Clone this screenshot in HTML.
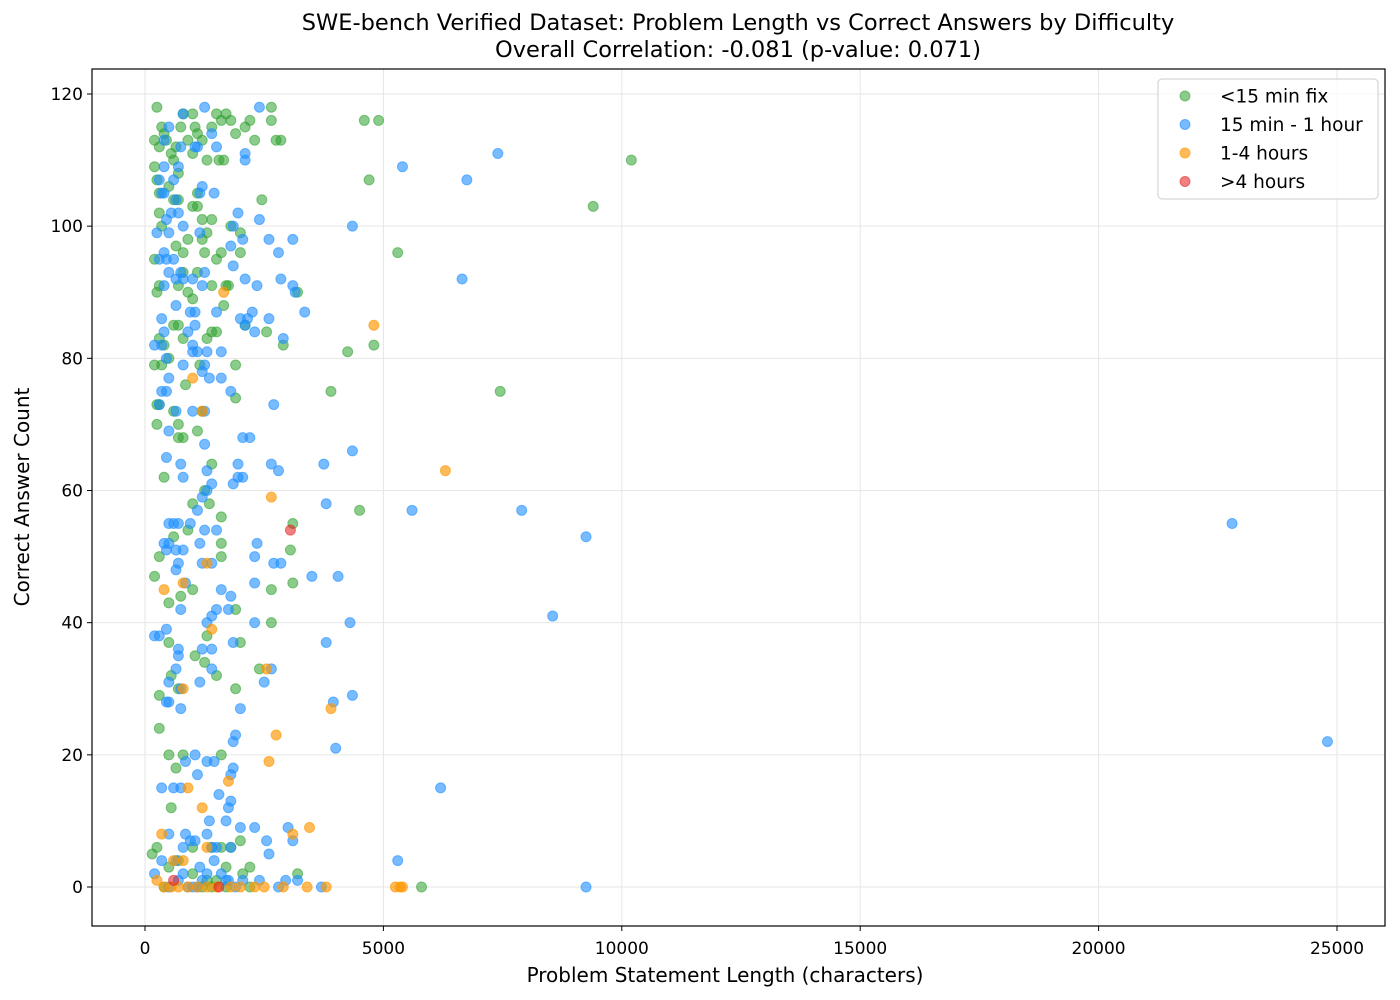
<!DOCTYPE html>
<html><head><meta charset="utf-8">
<style>
html,body{margin:0;padding:0;background:#fff;}
svg{display:block;font-family:"DejaVu Sans","Liberation Sans",sans-serif;}
</style></head>
<body>
<svg id="chart" width="1400" height="1000" viewBox="0 0 1400 1000" xmlns="http://www.w3.org/2000/svg">
<rect width="1400" height="1000" fill="#fff"/>
<text x="738" y="30" font-size="22.5" text-anchor="middle" fill="#000">SWE-bench Verified Dataset: Problem Length vs Correct Answers by Difficulty</text>
<text x="738" y="57" font-size="22.5" text-anchor="middle" fill="#000">Overall Correlation: -0.081 (p-value: 0.071)</text>
<g id="grid"></g>
<g id="points"></g>
<rect x="92" y="69" width="1293" height="857" fill="none" stroke="#000" stroke-width="1.2"/>
<g id="axes"></g>
<text x="725" y="982" font-size="20" text-anchor="middle">Problem Statement Length (characters)</text>
<text x="29" y="497" font-size="20" text-anchor="middle" transform="rotate(-90 29 497)">Correct Answer Count</text>
<g id="legend"></g>
</svg>
<script>
const xTicks=[0,5000,10000,15000,20000,25000];
const yTicks=[0,20,40,60,80,100,120];
const seriesNames=["<15 min fix","15 min - 1 hour","1-4 hours",">4 hours"];
const seriesColors=["rgba(44,160,44,0.55)","rgba(30,144,255,0.6)","rgba(255,150,0,0.65)","rgba(228,26,28,0.55)"];
const greenPts=[[4600,116],[4900,116],[4700,107],[10200,110],[9400,103],[5300,96],[4800,82],[4250,81],[3900,75],[7450,75],[4500,57],[5800,0],[3100,55],[3050,51],[3100,46],[2650,45],[2650,40],[3200,2],[2900,82],[3200,90],[2750,113],[2850,113],[2650,118],[2650,116],[2450,104],[2550,84],[2400,33],[2200,3],[2050,2],
[250,118],[200,113],[300,112],[350,115],[400,114],[450,113],[550,111],[600,110],[650,112],[700,108],[750,115],[800,117],[900,113],[1000,117],[1050,115],[1100,114],[1200,113],[1300,110],[1400,115],[1500,117],[1600,116],[1700,117],[1800,116],[1900,114],[2100,115],[2200,116],[2300,113],[1550,110],[1650,110],[1000,111],[200,109],[250,107],[300,105],[500,106],[600,104],[700,104],[1100,103],[1200,101],[1400,101],[300,102],[350,100],[650,97],[800,96],[900,98],[1200,98],[1600,96],[2000,99],[200,95],[250,90],[300,91],[700,91],[800,93],[900,90],[1000,89],[1100,93],[1400,91],[1650,88],[1750,91],[600,85],[700,85],[800,83],[1400,84],[1300,83],[300,83],[400,82],[200,79],[350,79],[500,80],[1900,79],[1150,79],[850,76],[600,72],[250,73],[300,73],[1200,72],[1900,74],[700,70],[250,70],[700,68],[800,68],[1100,69],[1400,64],[400,62],[1000,58],[1250,60],[1350,58],[1600,56],[900,54],[600,53],[1600,52],[1600,50],[300,50],[200,47],[1000,45],[500,43],[750,44],[1300,38],[1900,42],[1050,35],[1250,34],[2000,37],[500,37],[550,32],[1500,32],[1900,30],[700,30],[300,29],[300,24],[500,20],[800,20],[1600,20],[650,18],[550,12],[150,5],[250,6],[500,3],[700,4],[1000,2],[1300,1],[1500,1],[1700,3],[2000,7],[1400,6],[1600,6],[1800,6],[1000,6],[1200,0],[1400,0],[1700,0],[400,0],[2200,0],[1500,95],[1800,100],[2000,96],[1250,96],[1300,99],[1000,103],[1100,105],[1500,84],[1700,91],[2100,85]];
const bluePts=[[22800,55],[24800,22],[9250,53],[9250,0],[8550,41],[7900,57],[6200,15],[5600,57],[5400,109],[6750,107],[7400,111],[6650,92],[5300,4],[4350,100],[4350,66],[4350,29],[4300,40],[4050,47],[4000,21],[3950,28],[3800,58],[3800,37],[3750,64],[3500,47],[3700,0],[3350,87],[3100,98],[3100,91],[3150,90],[2850,92],[2800,96],[2900,83],[2800,63],[2700,73],[2650,64],[2600,86],[2600,98],[2400,101],[2350,91],[2350,52],[2300,50],[2300,46],[2500,31],[2650,33],[2700,49],[2850,49],[2550,7],[2600,5],[3100,7],[3000,9],[3200,1],[2800,0],[2300,9],[2400,1],[2950,1],[2300,40],[2200,68],[2050,68],[2100,85],[2150,86],[2250,87],[2300,84],[2000,86],[2100,92],[2050,98],[2100,110],[2100,111],[2400,118],[1950,102],[1850,94],[1800,97],[1850,100],[1800,75],[1850,61],[1950,64],[1950,62],[2050,62],[1800,44],[1750,42],[1850,37],[2000,27],[1900,23],[1850,22],[1800,17],[1850,18],[1750,12],[1800,13],[1700,10],[1800,6],[1750,1],[2050,1],[2000,9],[1500,112],[1400,114],[1250,118],[1450,105],[1200,106],[1150,105],[1100,112],[1050,112],[800,117],[750,112],[700,109],[600,107],[500,115],[400,113],[300,107],[400,105],[350,105],[400,109],[650,104],[550,102],[700,102],[250,99],[450,101],[500,99],[800,100],[1150,99],[400,96],[450,95],[500,93],[300,95],[400,91],[600,95],[750,93],[800,92],[650,92],[1000,92],[1250,93],[1200,91],[1050,87],[950,87],[1050,85],[900,84],[650,88],[350,86],[400,84],[350,82],[200,82],[450,80],[800,79],[1000,82],[1000,81],[1100,81],[1300,81],[1250,79],[1200,78],[1350,77],[1500,87],[1600,81],[1600,77],[500,77],[350,75],[450,75],[300,73],[650,72],[1000,72],[1250,72],[500,69],[450,65],[750,64],[1250,67],[1300,63],[1400,61],[1200,59],[1300,60],[1100,57],[800,62],[700,55],[600,55],[500,55],[950,55],[1250,54],[1500,54],[500,52],[450,51],[400,52],[650,51],[800,51],[700,49],[650,48],[1150,52],[1200,49],[1400,49],[1600,45],[1500,42],[1400,41],[850,46],[750,42],[450,39],[200,38],[300,38],[1300,40],[1400,36],[1200,36],[700,36],[650,33],[700,35],[1400,33],[500,31],[750,30],[1150,31],[450,28],[500,28],[750,27],[350,15],[600,15],[750,15],[850,19],[1050,20],[1100,17],[1300,19],[1450,19],[1550,14],[1350,10],[1300,8],[1500,6],[1050,7],[950,7],[850,8],[800,6],[500,8],[650,4],[350,4],[200,2],[700,1],[800,2],[900,0],[1000,0],[1100,0],[1150,3],[1200,1],[1300,2],[1450,4],[1400,6],[1600,2],[1700,1],[500,0],[1900,0]];
const orangePts=[[4800,85],[6300,63],[1650,90],[1000,77],[1200,72],[2650,59],[1300,49],[800,46],[400,45],[1400,39],[2550,33],[800,30],[3900,27],[2750,23],[2600,19],[900,15],[1750,16],[1200,12],[3450,9],[3100,8],[350,8],[1300,6],[600,4],[800,4],[250,1],[400,0],[550,0],[700,0],[900,0],[1100,0],[1300,0],[1500,0],[1800,0],[2000,0],[2300,0],[2500,0],[2900,0],[3400,0],[3800,0],[5250,0],[5350,0],[5400,0]];
const redPts=[[3050,54],[600,1],[1550,0]];

const NS="http://www.w3.org/2000/svg";
function xS(v){return 145+v*(1337-145)/25000;}
function yS(v){return 887-v*(887-94)/120;}
function mk(tag,attrs,parent){const e=document.createElementNS(NS,tag);for(const k in attrs)e.setAttribute(k,attrs[k]);parent.appendChild(e);return e;}
const grid=document.getElementById('grid'),axes=document.getElementById('axes'),pts=document.getElementById('points'),leg=document.getElementById('legend');
xTicks.forEach(t=>{const x=xS(t);
 const g=mk('line',{x1:x,x2:x,y1:69,y2:926,stroke:'#e6e6e6','stroke-width':1},grid);
 
 
 const tk=mk('line',{x1:x,x2:x,y1:926,y2:931,stroke:'#000'},axes);
 
 
 const l=mk('text',{x:x,y:954,'font-size':17,'text-anchor':'middle'},axes);l.textContent=t;
 
 
});
yTicks.forEach(t=>{const y=yS(t);
 const g=mk('line',{x1:92,x2:1385,y1:y,y2:y,stroke:'#e6e6e6','stroke-width':1},grid);
 
 
 const tk=mk('line',{x1:87,x2:92,y1:y,y2:y,stroke:'#000'},axes);
 
 
 const l=mk('text',{x:83,y:y+6,'font-size':17,'text-anchor':'end'},axes);l.textContent=t;
 
 
});
const allSeries=[greenPts,bluePts,orangePts,redPts];
const seriesKeys=['lt15min','15min-1h','1-4h','gt4h'];
allSeries.forEach((s,i)=>{s.forEach(p=>{
 const c=mk('circle',{cx:xS(p[0]),cy:yS(p[1]),r:5,fill:seriesColors[i],stroke:seriesColors[i],'stroke-width':1},pts);
 
 
});});
const lb=mk('rect',{x:1158,y:79,width:220,height:120,rx:4,fill:'#fff','fill-opacity':0.8,stroke:'#ccc'},leg);


seriesNames.forEach((n,i)=>{const y=96+i*28.5;
 const c=mk('circle',{cx:1185,cy:y,r:5,fill:seriesColors[i],stroke:seriesColors[i],'stroke-width':1},leg);
 
 
 const t=mk('text',{x:1220,y:y+6.5,'font-size':18.5},leg);t.textContent=n;
 
 
});
</script>
</body></html>
